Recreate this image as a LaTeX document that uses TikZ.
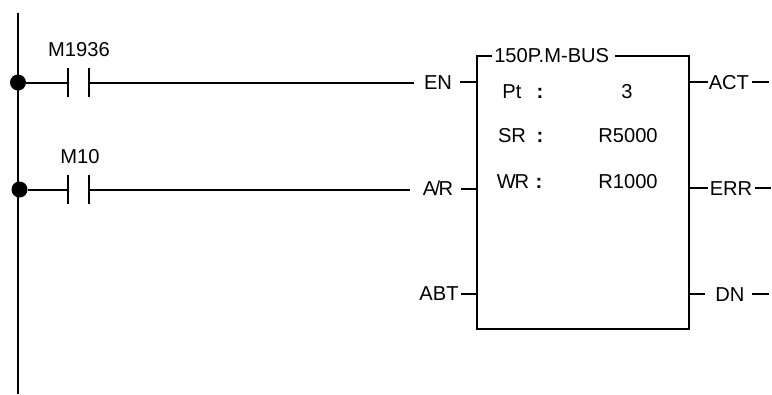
\documentclass[tikz,border=0pt]{standalone}
\usepackage{fontspec}
\setmainfont{Liberation Sans}
\begin{document}
\begin{tikzpicture}[x=0.75pt,y=-0.75pt,
  wire/.style={draw=black,line width=1.5pt},
  thin wire/.style={draw=black,line width=1.35pt},
  lbl/.style={inner sep=0pt,font=\fontsize{15.1pt}{17pt}\selectfont,text=black},
  colon/.style={inner sep=0pt,font=\fontsize{15.1pt}{17pt}\selectfont\bfseries,text=black},
  fb/.style={draw=black,line width=1.7pt,line join=miter},
  junction/.style={circle,fill=black,draw=none,minimum size=12pt,inner sep=0pt}]
\useasboundingbox (0,0) rectangle (772,394);
% rail
\coordinate (railtop) at (18,13);
\coordinate (railbot) at (18,394);
\draw[wire] (railtop) -- (railbot);
\node[junction] (j1) at (18,82.5) {};
\node[junction] (j2) at (19.5,189.5) {};
% contacts
\coordinate (c1a) at (68,82.5); \coordinate (c1b) at (89,82.5);
\coordinate (c1at) at (68,68); \coordinate (c1ab) at (68,97);
\coordinate (c1bt) at (89,68); \coordinate (c1bb) at (89,97);
\coordinate (c2a) at (68,189.5); \coordinate (c2b) at (89,189.5);
\coordinate (c2at) at (68,175); \coordinate (c2ab) at (68,204);
\coordinate (c2bt) at (89,175); \coordinate (c2bb) at (89,204);
\draw[wire] (c1at) -- (c1ab);
\draw[wire] (c1bt) -- (c1bb);
\draw[wire] (c2at) -- (c2ab);
\draw[wire] (c2bt) -- (c2bb);
\node[lbl] (m1936) at (79,49.5) {M1936};
\node[lbl] (m10) at (80,157) {M10};
% left labels
\node[lbl] (en) at (438,83) {EN};
\node[lbl] (ar) at (438,188) {A\kern-1.2pt/\kern-1.2ptR};
\node[lbl] (abt) at (439,294) {ABT};
% wires
\coordinate (w1e) at (414,82.5);
\coordinate (w2e) at (410,189.5);
\draw[wire] (j1) -- (c1a);
\draw[wire] (c1b) -- (w1e);
\draw[wire] (j2) -- (c2a);
\draw[wire] (c2b) -- (w2e);
% block
\coordinate (tl) at (477,56);
\coordinate (tr) at (689,56);
\coordinate (bl) at (477,329);
\coordinate (br) at (689,329);
\node[lbl,anchor=west] (title) at (494,55.5) {150P.M-BUS};
\coordinate (ttl) at (492,56);
\coordinate (ttr) at (615,56);
\draw[fb] (ttl) -- (tl) -- (bl) -- (br) -- (tr) -- (ttr);
% left stubs
\coordinate (enl) at (460,82); \coordinate (enr) at (477,82);
\coordinate (arl) at (461,189); \coordinate (arr) at (477,189);
\coordinate (abl) at (461,294); \coordinate (abr) at (477,294);
\draw[thin wire] (enl) -- (enr);
\draw[thin wire] (arl) -- (arr);
\draw[thin wire] (abl) -- (abr);
% right stubs
\node[lbl,anchor=west] (act) at (708.5,83) {ACT};
\node[lbl,anchor=west] (err) at (709.5,189) {ERR};
\node[lbl,anchor=west] (dn) at (715,294.5) {DN};
\coordinate (a1) at (689,82); \coordinate (a2) at (708,82);
\coordinate (a3) at (752,82); \coordinate (a4) at (769,82);
\coordinate (e1) at (689,188); \coordinate (e2) at (708,188);
\coordinate (e3) at (755,188); \coordinate (e4) at (771,188);
\coordinate (d1) at (689,294); \coordinate (d2) at (705,294);
\coordinate (d3) at (752,294); \coordinate (d4) at (769,294);
\draw[thin wire] (a1) -- (a2);
\draw[thin wire] (a3) -- (a4);
\draw[thin wire] (e1) -- (e2);
\draw[thin wire] (e3) -- (e4);
\draw[thin wire] (d1) -- (d2);
\draw[thin wire] (d3) -- (d4);
% contents
\node[lbl] (pt) at (512,91.5) {Pt};
\node[lbl] (sr) at (512,136) {SR};
\node[lbl] (wr) at (513,182) {W\kern-1pt R};
\node[colon] (cp) at (540,93) {:};
\node[colon] (cs) at (540,137) {:};
\node[colon] (cw) at (539,183) {:};
\node[lbl] (v3) at (627,92) {3};
\node[lbl] (v5) at (628,136) {R5000};
\node[lbl] (v1) at (628,182) {R1000};
\end{tikzpicture}
\end{document}
